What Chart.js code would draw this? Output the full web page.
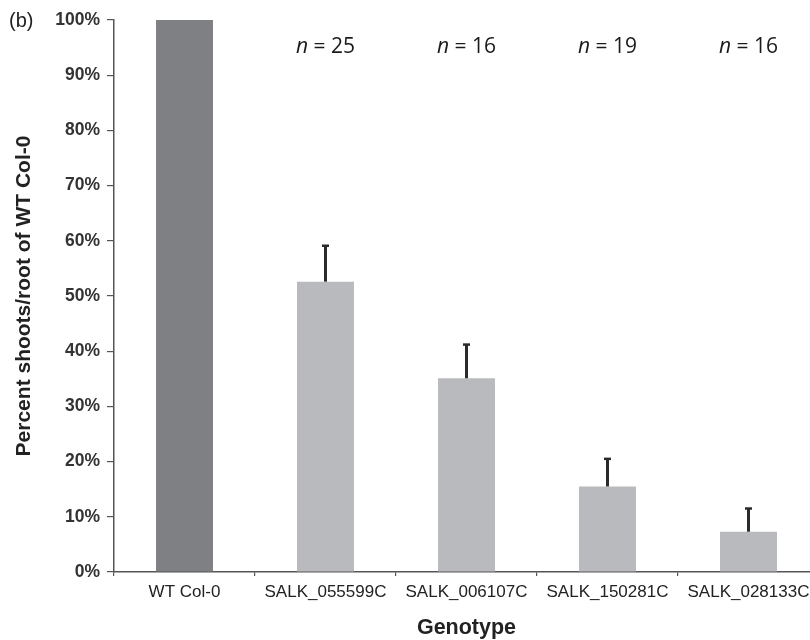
<!DOCTYPE html>
<html>
<head>
<meta charset="utf-8">
<script src="https://cdn.jsdelivr.net/npm/chart.js@4/dist/chart.umd.min.js"></script>
<style>
  html, body { margin: 0; padding: 0; background: #fff; overflow: hidden; }
  canvas { display: block; }
</style>
</head>
<body>
<canvas id="c" width="820" height="640"></canvas>
<script>
// Genotypes and shoot/root ratio relative to wild type (%)
const genotypes = ["WT Col-0", "SALK_055599C", "SALK_006107C", "SALK_150281C", "SALK_028133C"];
const percentOfWT = [100, 52.6, 35.1, 15.5, 7.3];
const errorUpper = [0, 6.5, 6.1, 5.0, 4.2];
const sampleSizes = ["", "25", "16", "19", "16"];
const barColors = ["#7f8084", "#b9babd", "#b9babd", "#b9babd", "#b9babd"];

// Upward error whiskers drawn through the value scale
const errorBarPlugin = {
  id: "errorBars",
  afterDatasetsDraw(chart) {
    const ctx = chart.ctx;
    const meta = chart.getDatasetMeta(0);
    const y = chart.scales.y;
    ctx.save();
    ctx.strokeStyle = "#2a2a2a";
    meta.data.forEach((bar, i) => {
      const e = errorUpper[i];
      if (!e) return;
      const yTop = y.getPixelForValue(percentOfWT[i] + e);
      const yBase = y.getPixelForValue(percentOfWT[i]);
      ctx.lineWidth = 3;
      ctx.beginPath();
      ctx.moveTo(bar.x, yBase);
      ctx.lineTo(bar.x, yTop);
      ctx.stroke();
      ctx.lineWidth = 2.5;
      ctx.beginPath();
      ctx.moveTo(bar.x - 3.5, yTop);
      ctx.lineTo(bar.x + 3.5, yTop);
      ctx.stroke();
    });
    ctx.restore();
  }
};

// Sample size annotations and panel letter
const annotationPlugin = {
  id: "annotations",
  afterDraw(chart) {
    const ctx = chart.ctx;
    const meta = chart.getDatasetMeta(0);
    const top = chart.chartArea.top;
    ctx.save();
    ctx.fillStyle = "#1a1a1a";
    ctx.textBaseline = "middle";
    meta.data.forEach((bar, i) => {
      if (!sampleSizes[i]) return;
      const italic = "italic 21px 'Open Sans'";
      const plain = "21px 'Open Sans'";
      const rest = " = " + sampleSizes[i];
      ctx.font = italic;
      const w1 = ctx.measureText("n").width;
      ctx.font = plain;
      const w2 = ctx.measureText(rest).width;
      const x0 = bar.x - (w1 + w2) / 2;
      ctx.textAlign = "left";
      ctx.font = italic;
      ctx.fillText("n", x0, top + 27);
      ctx.font = plain;
      ctx.fillText(rest, x0 + w1, top + 27);
    });
    ctx.font = "20px 'Liberation Sans', Arial, sans-serif";
    ctx.textAlign = "left";
    ctx.textBaseline = "alphabetic";
    ctx.fillStyle = "#222";
    ctx.fillText("(b)", 9, 27);
    ctx.restore();
  }
};

new Chart(document.getElementById("c"), {
  type: "bar",
  data: {
    labels: genotypes,
    datasets: [{
      data: percentOfWT,
      backgroundColor: barColors,
      borderWidth: 0,
      categoryPercentage: 1,
      barPercentage: 0.404
    }]
  },
  options: {
    responsive: false,
    animation: false,
    layout: { padding: { top: 20, right: 1, bottom: 0, left: 0 } },
    plugins: { legend: { display: false }, tooltip: { enabled: false } },
    scales: {
      x: {
        grid: { offset: true, drawOnChartArea: false, drawTicks: true, tickLength: 4, color: "#555", lineWidth: 1.2 },
        border: { display: true, color: "#555", width: 1.5 },
        ticks: {
          autoSkip: false, maxRotation: 0, padding: 6, color: "#222",
          font: { family: "'Liberation Sans', Arial, sans-serif", size: 17 }
        },
        title: {
          display: true, text: "Genotype", color: "#222",
          font: { family: "'Liberation Sans', Arial, sans-serif", size: 21.5, weight: "bold", lineHeight: 1 },
          padding: { top: 0, bottom: 1 }
        },
        afterFit(scale) { scale.height = 68; }
      },
      y: {
        min: 0, max: 100,
        grid: { drawOnChartArea: false, drawTicks: true, tickLength: 7, color: "#555", lineWidth: 1.2 },
        border: { display: true, color: "#555", width: 1.5 },
        ticks: {
          stepSize: 10, padding: 7, color: "#333",
          font: { family: "'Liberation Sans', Arial, sans-serif", size: 17.5, weight: "bold" },
          callback: v => v + "%"
        },
        title: {
          display: true, text: "Percent shoots/root of WT Col-0", color: "#222",
          font: { family: "'Liberation Sans', Arial, sans-serif", size: 21, weight: "bold", lineHeight: 1.2 },
          padding: { top: 12, bottom: 0 }
        },
        afterFit(scale) { scale.width = 114; }
      }
    }
  },
  plugins: [errorBarPlugin, annotationPlugin]
});
</script>
</body>
</html>
